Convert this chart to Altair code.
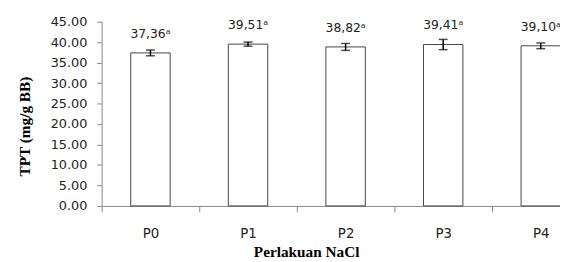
import altair as alt
import pandas as pd

categories = ["P0", "P1", "P2", "P3", "P4"]
means = [37.36, 39.51, 38.82, 39.41, 39.10]
errors = [0.70, 0.50, 0.85, 1.25, 0.70]
letters = ["a", "a", "a", "a", "a"]
y_ticks = [0, 5, 10, 15, 20, 25, 30, 35, 40, 45]

sup = {"a": "\u1d43"}
df = pd.DataFrame({"cat": categories, "mean": means, "err": errors})
df["lo"] = df["mean"] - df["err"]
df["hi"] = df["mean"] + df["err"]
df["label"] = [f"{m:.2f}".replace(".", ",") + sup[l] for m, l in zip(means, letters)]

x = alt.X(
    "cat:N",
    sort=categories,
    scale=alt.Scale(range=[0, 495], paddingInner=0, paddingOuter=0),
    axis=alt.Axis(
        title="Perlakuan NaCl",
        labelAngle=0,
        tickBand="extent",
        tickSize=6,
        labelPadding=15,
        titlePadding=5,
        titleX=207.5,
        labelFont="DejaVu Sans",
        labelFontSize=13.5,
        labelColor="#222",
        titleFont="Liberation Serif",
        titleFontSize=15.5,
        titleFontWeight="bold",
        titleColor="black",
        domainColor="#888",
        tickColor="#888",
    ),
)
y_scale = alt.Scale(domain=[0, 45], nice=False, zero=True)
y_axis = alt.Axis(
    title="TPT (mg/g BB)",
    values=y_ticks,
    format=".2f",
    grid=False,
    labelOverlap=False,
    tickSize=5,
    labelPadding=10,
    titlePadding=18,
    titleY=106,
    labelFont="DejaVu Sans",
    labelFontSize=13,
    labelColor="#222",
    titleFont="Liberation Serif",
    titleFontSize=15.5,
    titleFontWeight="bold",
    titleColor="black",
    domainColor="#888",
    tickColor="#888",
)


def Y(field):
    return alt.Y(field, scale=y_scale, axis=y_axis)


base = alt.Chart(df)
bars = base.mark_bar(size=40, fill="white", stroke="#444", strokeWidth=1).encode(
    x=x, y=Y("mean:Q")
)
err = base.mark_rule(color="black", strokeWidth=1.5).encode(
    x=x, y=Y("lo:Q"), y2="hi:Q"
)
cap_hi = base.mark_tick(color="black", size=9, thickness=1.5).encode(
    x=x, y=Y("hi:Q")
)
cap_lo = base.mark_tick(color="black", size=9, thickness=1.5).encode(
    x=x, y=Y("lo:Q")
)
text = base.mark_text(
    dy=-15.5, baseline="alphabetic", font="DejaVu Sans", fontSize=12.5, color="#222"
).encode(x=x, y=Y("mean:Q"), text="label:N")

chart = (
    alt.layer(bars, err, cap_hi, cap_lo, text)
    .properties(
        width=465,
        height=187,
        autosize=alt.AutoSizeParams(type="none"),
        padding={"left": 95, "top": 12, "right": 0, "bottom": 52},
    )
    .configure_view(stroke=None)
)
chart.save("out.html", embed_options={"renderer": "svg", "actions": False})
